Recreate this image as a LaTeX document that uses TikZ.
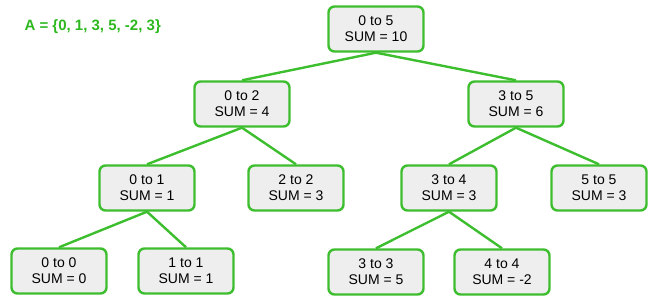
\documentclass[tikz,border=0pt]{standalone}
\usepackage{fontspec}
\setmainfont{Liberation Sans}
\definecolor{boxgreen}{HTML}{3DBE2E}
\definecolor{boxfill}{HTML}{EEEEEE}
\definecolor{titlegreen}{HTML}{2DB81F}
\begin{document}
\begin{tikzpicture}[x=1pt,y=-1pt,
  seg/.style={draw=boxgreen, line width=2.4pt, fill=boxfill, rounded corners=6pt,
    minimum width=95pt, minimum height=45pt, align=center, inner sep=0pt,
    font=\fontsize{14}{16}\selectfont},
  link/.style={draw=boxgreen, line width=2.4pt}]
\useasboundingbox (0,0) rectangle (660,302);
\node[font=\bfseries\fontsize{15}{18}\selectfont, text=titlegreen, anchor=west] (title) at (21,27) {A = \{0, 1, 3, 5, -2, 3\}};
\node[seg] (r) at (376,29) {0 to 5\\SUM = 10};
\node[seg] (a) at (242,104) {0 to 2\\SUM = 4};
\node[seg] (b) at (516,104) {3 to 5\\SUM = 6};
\node[seg] (aa) at (147,188) {0 to 1\\SUM = 1};
\node[seg] (ab) at (296,188) {2 to 2\\SUM = 3};
\node[seg] (ba) at (449,188) {3 to 4\\SUM = 3};
\node[seg] (bb) at (599,188) {5 to 5\\SUM = 3};
\node[seg] (aaa) at (59,271) {0 to 0\\SUM = 0};
\node[seg] (aab) at (186,271) {1 to 1\\SUM = 1};
\node[seg] (baa) at (376,272) {3 to 3\\SUM = 5};
\node[seg] (bab) at (502,272) {4 to 4\\SUM = -2};
\draw[link] (r.south) -- (a.north);
\draw[link] (r.south) -- (b.north);
\draw[link] (a.south) -- (aa.north);
\draw[link] (a.south) -- (ab.north);
\draw[link] (b.south) -- (ba.north);
\draw[link] (b.south) -- (bb.north);
\draw[link] (aa.south) -- (aaa.north);
\draw[link] (aa.south) -- (aab.north);
\draw[link] (ba.south) -- (baa.north);
\draw[link] (ba.south) -- (bab.north);
\end{tikzpicture}
\end{document}
